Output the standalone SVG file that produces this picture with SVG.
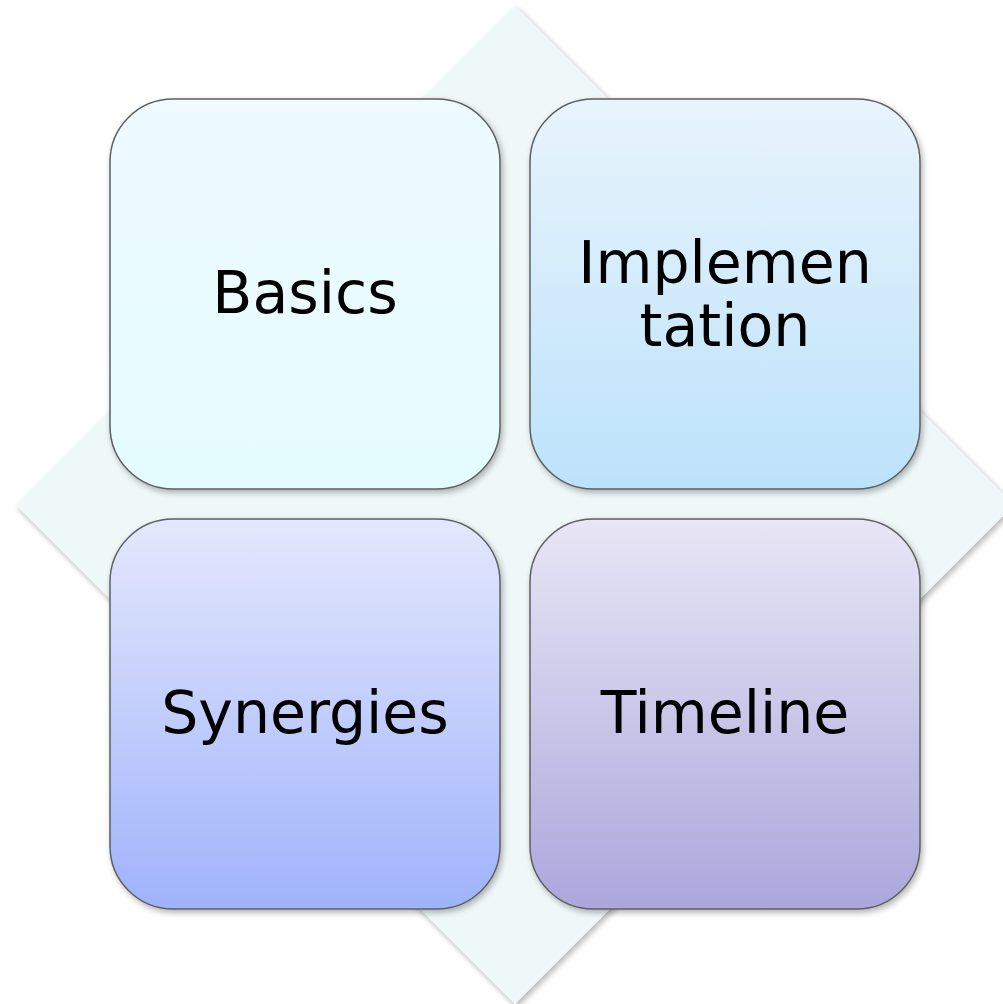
<svg xmlns="http://www.w3.org/2000/svg" width="1003" height="1004" viewBox="0 0 1003 1004">
<defs>
<filter id="sh" x="-10%" y="-10%" width="120%" height="120%">
<feGaussianBlur in="SourceAlpha" stdDeviation="3"/>
<feOffset dx="2" dy="3" result="b"/>
<feComponentTransfer><feFuncA type="linear" slope="0.3"/></feComponentTransfer>
<feMerge><feMergeNode/><feMergeNode in="SourceGraphic"/></feMerge>
</filter>
<linearGradient id="g1" x1="0" y1="0" x2="0" y2="1"><stop offset="0" stop-color="#effbfe"/><stop offset="1" stop-color="#e4fcfe"/></linearGradient>
<linearGradient id="g2" x1="0" y1="0" x2="0" y2="1"><stop offset="0" stop-color="#e8f4fc"/><stop offset="1" stop-color="#bce2fb"/></linearGradient>
<linearGradient id="g3" x1="0" y1="0" x2="0" y2="1"><stop offset="0" stop-color="#e4e8fd"/><stop offset="1" stop-color="#9fb3fb"/></linearGradient>
<linearGradient id="g4" x1="0" y1="0" x2="0" y2="1"><stop offset="0" stop-color="#e8e6f5"/><stop offset="1" stop-color="#aba7dc"/></linearGradient>
</defs>
<style>
.box{stroke:#5f5f5f;stroke-width:1.5;filter:url(#sh)}
.lbl{font-family:"DejaVu Sans",Verdana,sans-serif;font-size:58.5px;fill:#000;text-anchor:middle}
</style>
<polygon id="diamond" points="515,6 1014,505 515,1004 16,505" fill="#eff7f9" filter="url(#sh)"/>
<g id="basics">
<rect class="box" x="110" y="99" width="390" height="390" rx="63" fill="url(#g1)"/>
<text class="lbl" x="305" y="313">Basics</text>
</g>
<g id="implementation">
<rect class="box" x="530" y="99" width="390" height="390" rx="63" fill="url(#g2)"/>
<text class="lbl" x="725" y="283">Implemen</text>
<text class="lbl" x="725" y="346">tation</text>
</g>
<g id="synergies">
<rect class="box" x="110" y="519" width="390" height="390" rx="63" fill="url(#g3)"/>
<text class="lbl" x="305" y="733">Synergies</text>
</g>
<g id="timeline">
<rect class="box" x="530" y="519" width="390" height="390" rx="63" fill="url(#g4)"/>
<text class="lbl" x="725" y="733">Timeline</text>
</g>
<g id="connectors"/>
</svg>
